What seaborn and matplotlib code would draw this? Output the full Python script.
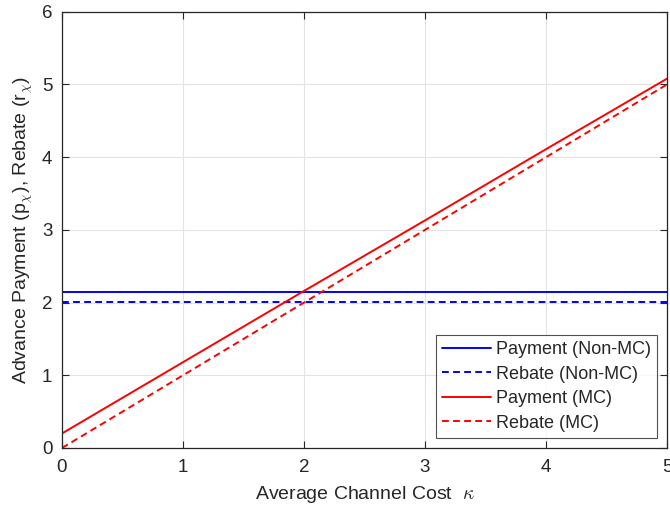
import numpy as np
import pandas as pd
import matplotlib
matplotlib.use("Agg")
import matplotlib.pyplot as plt
import seaborn as sb

# values
kappa = [0, 1, 2, 3, 4, 5]
payment_nonmc = [2.15, 2.15, 2.15, 2.15, 2.15, 2.15]
rebate_nonmc = [2.01, 2.01, 2.01, 2.01, 2.01, 2.01]
payment_mc = [0.20, 1.18, 2.16, 3.13, 4.11, 5.08]
rebate_mc = [0.00, 1.00, 2.00, 3.00, 4.00, 5.00]

names = ["Payment (Non-MC)", "Rebate (Non-MC)", "Payment (MC)", "Rebate (MC)"]
series = [payment_nonmc, rebate_nonmc, payment_mc, rebate_mc]

df = pd.concat([pd.DataFrame({"kappa": kappa, "value": s, "series": n})
                for n, s in zip(names, series)], ignore_index=True)

sb.set_style("white")
plt.rcParams['font.family'] = ['Liberation Sans', 'DejaVu Sans']
plt.rcParams['mathtext.fontset'] = 'cm'

fig = plt.figure(figsize=(6.7, 5.12), dpi=100)
ax = fig.add_axes([0.0925, 0.125, 0.903, 0.852])

palette = {names[0]: "#0000ff", names[1]: "#0000ff", names[2]: "#ff0000", names[3]: "#ff0000"}
dashes = {names[0]: "", names[1]: (3.5, 2.2), names[2]: "", names[3]: (3.5, 2.2)}
sb.lineplot(data=df, x="kappa", y="value", hue="series", style="series",
            palette=palette, dashes=dashes, linewidth=1.4, ax=ax)

ax.set_xlim(0, 5)
ax.set_ylim(0, 6)
ax.set_xticks(range(0, 6))
ax.set_yticks(range(0, 7))
ax.grid(True, color="#e3e3e3", linewidth=0.8)
for sp in ax.spines.values():
    sp.set_color("#262626")
    sp.set_linewidth(0.9)
ax.tick_params(direction="in", length=5, width=0.8, colors="#262626",
               labelsize=13.5, top=True, right=True, bottom=True, left=True)
ax.tick_params(axis="x", pad=8)
ax.tick_params(axis="y", pad=7)
ax.tick_params(labeltop=False, labelright=False)

ax.set_xlabel(r"Average Channel Cost  $\kappa$", fontsize=14, color="#262626", labelpad=6)
ax.set_ylabel(r"Advance Payment (p$_{\chi}$), Rebate (r$_{\chi}$)", fontsize=14,
              color="#262626", labelpad=5)

leg = ax.legend(loc="lower right", fontsize=13, frameon=True, fancybox=False,
                borderaxespad=0.55, handlelength=2.7, handletextpad=0.25,
                labelspacing=0.42, borderpad=0.35)
leg.get_frame().set_edgecolor("#262626")
leg.get_frame().set_linewidth(0.8)
leg.set_title(None)

plt.savefig("out.png", dpi=100)
